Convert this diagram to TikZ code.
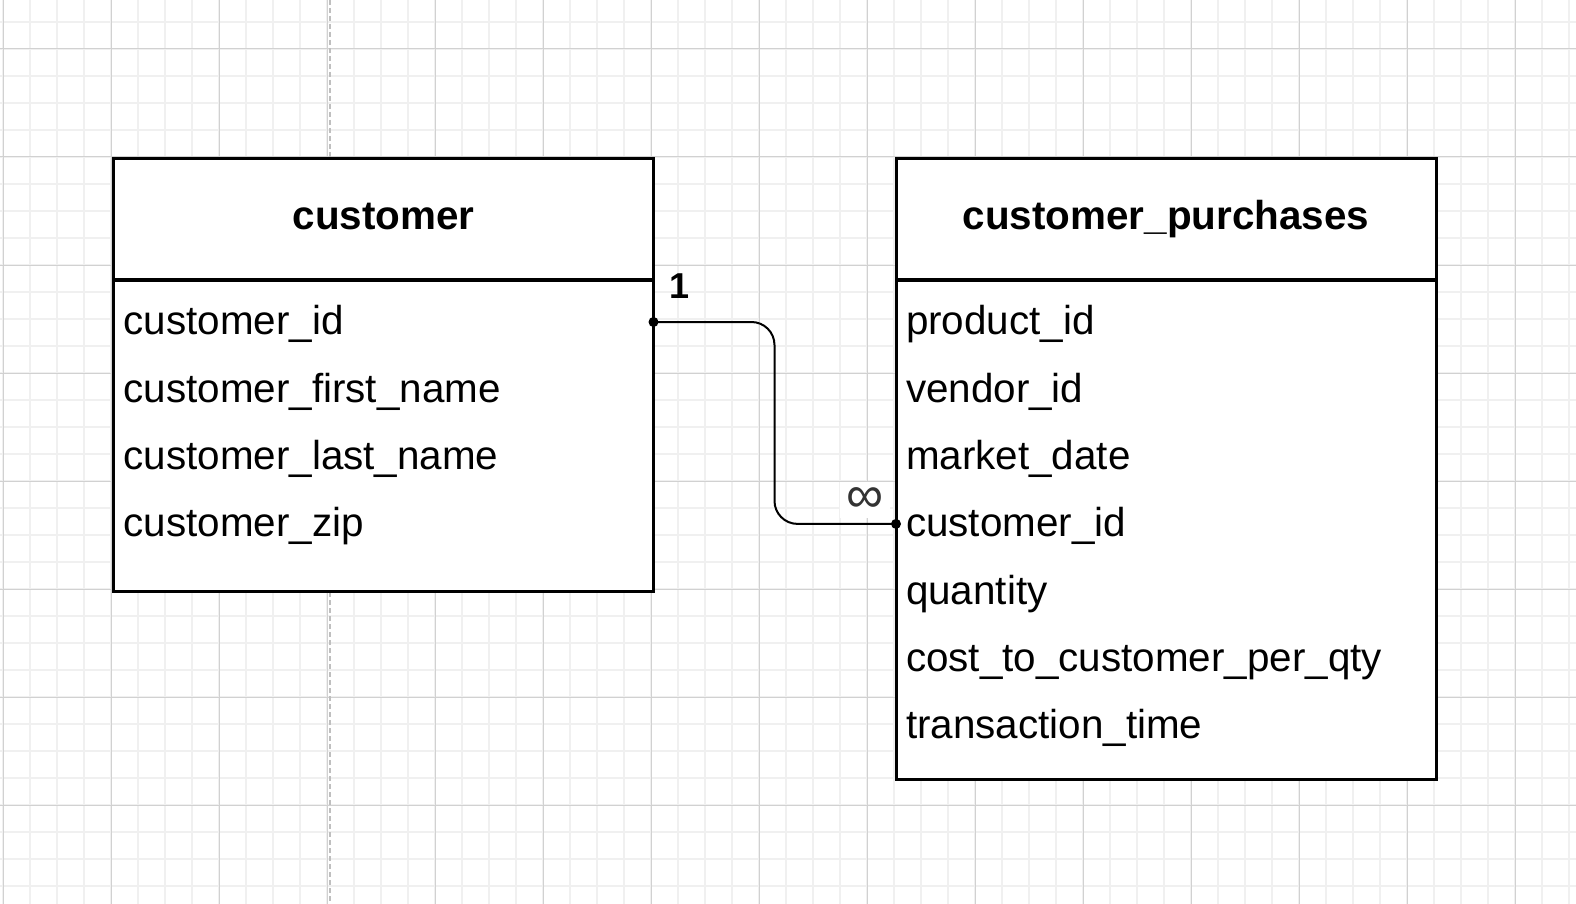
\documentclass[tikz,border=0pt]{standalone}
\usepackage{fontspec}
\setmainfont{Liberation Sans}
\usepackage{tikz}

\tikzset{
  tablebox/.style={draw=black, line width=1.5pt, fill=white, anchor=north west, inner sep=0pt, outer sep=0pt},
  tablehead/.style={anchor=north west, inner sep=0pt, outer sep=0pt, minimum height=60.25pt,
                    text height=14.5pt, text depth=4pt, font=\fontsize{20.2}{24}\selectfont\bfseries},
  field/.style={anchor=base west, inner xsep=5pt, inner ysep=0pt, outer sep=0pt, text width=260pt,
                align=left, text height=14.5pt, text depth=1.5pt, font=\fontsize{20.2}{24}\selectfont},
}

\begin{document}
\begin{tikzpicture}[x=0.5pt,y=-0.5pt]
  \colorlet{minorgrid}{black!6}
  \colorlet{majorgrid}{black!18}
  \colorlet{guide}{black!25}

  \fill[white] (0,0) rectangle (1576,904);
  \useasboundingbox (0,0) rectangle (1576,904);

  % grid
  \foreach \k in {0,...,58}
    \draw[minorgrid, line width=0.6pt] ({3+27*\k},0) -- ({3+27*\k},904);
  \foreach \k in {0,...,32}
    \draw[minorgrid, line width=0.6pt] (0,{22+27*\k}) -- (1576,{22+27*\k});
  \foreach \k in {0,...,14}
    \draw[majorgrid, line width=0.5pt] ({3+108*\k},0) -- ({3+108*\k},904);
  \foreach \k in {0,...,7}
    \draw[majorgrid, line width=0.5pt] (0,{49+108*\k}) -- (1576,{49+108*\k});
  \draw[guide, line width=1pt, dash pattern=on 2.5pt off 1.5pt] (330,0) -- (330,904);

  % customer
  \node[tablebox, minimum width=270pt, minimum height=216pt] (custbox) at (113.5,159) {};
  \node[tablehead, minimum width=270pt] (custhead) at (113.5,159) {customer};
  \draw[line width=2pt] (custhead.south west) -- (custhead.south east);
  \foreach \txt [count=\i] in {customer\_id, customer\_first\_name, customer\_last\_name, customer\_zip}
    \node[field] (c\i) at (113.5,{335+67.3*(\i-1)}) {\txt};

  % customer_purchases
  \node[tablebox, minimum width=270pt, minimum height=310pt] (purbox) at (896,159) {};
  \node[tablehead, minimum width=270pt] (purhead) at (896,159) {customer\_purchases};
  \draw[line width=2pt] (purhead.south west) -- (purhead.south east);
  \foreach \txt [count=\i] in {product\_id, vendor\_id, market\_date, customer\_id, quantity,
                               cost\_to\_customer\_per\_qty, transaction\_time}
    \node[field] (p\i) at (896,{335+67.3*(\i-1)}) {\txt};

  % relation
  \coordinate (bend) at (774.5,420);
  \draw[line width=1pt, rounded corners=11.5pt] (c1.east) -| (bend) |- (p4.west);
  \fill (c1.east) circle (5);
  \fill (p4.west) circle (5);
  \node[font=\fontsize{18}{20}\selectfont\bfseries, inner sep=0pt] (one) at (680,286) {1};
  \node[font=\fontsize{26}{28}\selectfont, text=black!80, fill=white, inner sep=3pt] (many) at (865,500) {∞};
\end{tikzpicture}
\end{document}
